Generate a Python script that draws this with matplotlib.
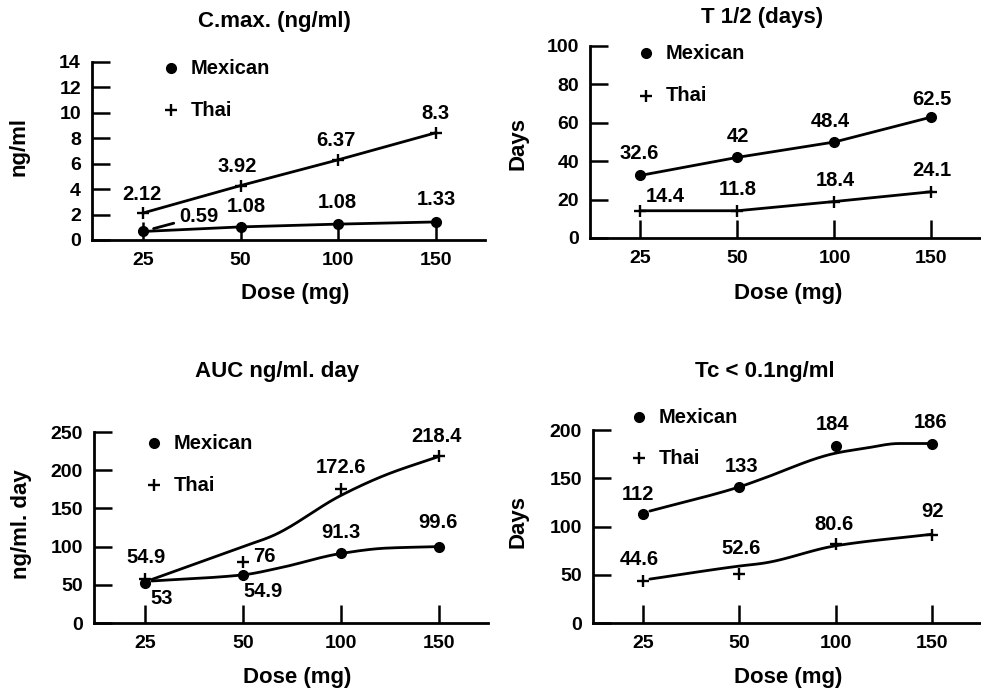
import matplotlib
matplotlib.use('Agg')
import matplotlib.pyplot as plt
import numpy as np

plt.rcParams['font.family'] = ['Liberation Sans', 'DejaVu Sans']
plt.rcParams['font.weight'] = 'bold'

# ---------------- data ----------------
doses = ['25', '50', '100', '150']

cmax_mex = [0.67, 1.03, 1.25, 1.42]
cmax_thai = [2.12, 4.28, 6.31, 8.44]
cmax_mex_labels = ['0.59', '1.08', '1.08', '1.33']
cmax_thai_labels = ['2.12', '3.92', '6.37', '8.3']

thalf_mex = [32.6, 42, 50, 63]
thalf_thai = [14.2, 14.2, 19, 24.1]
thalf_mex_labels = ['32.6', '42', '48.4', '62.5']
thalf_thai_labels = ['14.4', '11.8', '18.4', '24.1']

auc_mex = [52, 63, 91.3, 100]
auc_thai = [58, 80, 175, 218.4]
auc_mex_labels = ['53', '54.9', '91.3', '99.6']
auc_thai_labels = ['54.9', '76', '172.6', '218.4']
auc_mex_curve_x = [0.07, 1.0, 1.37, 2.0, 2.46, 3.0]
auc_mex_curve_y = [55, 63, 72, 91, 98, 100]
auc_thai_curve_x = [0.07, 1.0, 1.3, 2.0, 2.46, 3.0]
auc_thai_curve_y = [57, 100, 114, 167, 194, 218]

tc_mex = [113, 141, 183, 186]
tc_thai = [44, 51, 81.7, 91.5]
tc_mex_labels = ['112', '133', '184', '186']
tc_thai_labels = ['44.6', '52.6', '80.6', '92']
tc_mex_curve_x = [0.07, 1.0, 1.2, 2.0, 2.3, 2.66, 3.0]
tc_mex_curve_y = [116, 141, 148, 176, 181, 186, 186]
tc_thai_curve_x = [0.07, 1.0, 1.25, 2.0, 3.0]
tc_thai_curve_y = [45.5, 59, 62, 80, 92]

# ---------------- styling ----------------
PX = 0.72  # points per pixel at dpi 100
LW = 2.0
FS_DATA = 14.5
FS_TICK = 14
FS_LAB = 16
fig = plt.figure(figsize=(9.81, 6.88), dpi=100)


def px_rect(l, r, t, b):
    return [l / 981, 1 - b / 688, (r - l) / 981, (b - t) / 688]


def smooth(xs, ys, n=30):
    """Monotone cubic (Fritsch-Carlson) rendering of a hand-drawn curve through its knots."""
    xs = np.asarray(xs, float)
    ys = np.asarray(ys, float)
    h = np.diff(xs)
    d = np.diff(ys) / h
    m = np.zeros_like(ys)
    m[0], m[-1] = d[0], d[-1]
    for i in range(1, len(xs) - 1):
        if d[i - 1] * d[i] <= 0:
            m[i] = 0.0
        else:
            w1 = 2 * h[i] + h[i - 1]
            w2 = h[i] + 2 * h[i - 1]
            m[i] = (w1 + w2) / (w1 / d[i - 1] + w2 / d[i])
    ox, oy = [], []
    for i in range(len(xs) - 1):
        t = np.linspace(0, 1, n, endpoint=False)
        h00 = 2 * t ** 3 - 3 * t ** 2 + 1
        h10 = t ** 3 - 2 * t ** 2 + t
        h01 = -2 * t ** 3 + 3 * t ** 2
        h11 = t ** 3 - t ** 2
        ox.extend(xs[i] + t * h[i])
        oy.extend(h00 * ys[i] + h10 * h[i] * m[i] + h01 * ys[i + 1] + h11 * h[i] * m[i + 1])
    ox.append(xs[-1])
    oy.append(ys[-1])
    return ox, oy


def panel(rect, ylim, ystep, mex, thai, mex_lab, thai_lab, mex_off, thai_off,
          legend_pos, mex_curve=None, thai_curve=None):
    ax = fig.add_axes(rect)
    x = list(range(len(doses)))
    if mex_curve is None:
        ax.plot(x, mex, color='black', lw=LW, solid_capstyle='round')
    else:
        ax.plot(*smooth(*mex_curve), color='black', lw=LW, solid_capstyle='round')
    if thai_curve is None:
        ax.plot(x, thai, color='black', lw=LW, solid_capstyle='round')
    else:
        ax.plot(*smooth(*thai_curve), color='black', lw=LW, solid_capstyle='round')
    ax.plot(x, mex, 'o', color='black', ms=7, zorder=5)
    ax.plot(x, thai, '+', color='black', ms=9, mew=1.7, zorder=5)
    for xi, yi, s, (dx, dy) in zip(x, mex, mex_lab, mex_off):
        ax.annotate(s, (xi, yi), xytext=(dx * PX, dy * PX), textcoords='offset points',
                    ha='center', va='center', fontsize=FS_DATA)
    for xi, yi, s, (dx, dy) in zip(x, thai, thai_lab, thai_off):
        ax.annotate(s, (xi, yi), xytext=(dx * PX, dy * PX), textcoords='offset points',
                    ha='center', va='center', fontsize=FS_DATA)
    ax.set_xlim(-0.52, 3.5)
    ax.set_ylim(*ylim)
    ax.set_xticks(x)
    ax.set_xticklabels(doses)
    ax.set_yticks(list(range(ylim[0], ylim[1] + 1, ystep)))
    for s in ['top', 'right']:
        ax.spines[s].set_visible(False)
    for s in ['left', 'bottom']:
        ax.spines[s].set_linewidth(2.0)
    ax.tick_params(axis='x', direction='in', length=13, width=1.8, pad=9, labelsize=FS_TICK)
    ax.tick_params(axis='y', direction='in', length=13, width=1.8, pad=8, labelsize=FS_TICK)
    lx, ly1, ly2, tx = legend_pos
    ax.plot([lx], [ly1], 'o', color='black', ms=7, transform=ax.transAxes, clip_on=False)
    ax.plot([lx], [ly2], '+', color='black', ms=9, mew=1.7, transform=ax.transAxes, clip_on=False)
    ax.text(tx, ly1, 'Mexican', transform=ax.transAxes, va='center', ha='left', fontsize=FS_DATA)
    ax.text(tx, ly2, 'Thai', transform=ax.transAxes, va='center', ha='left', fontsize=FS_DATA)
    return ax


# Panel 1: C.max
ax1 = panel(px_rect(92, 485, 62, 240), (0, 14), 2, cmax_mex, cmax_thai,
            ['', '1.08', '1.08', '1.33'], cmax_thai_labels,
            [(0, 0), (6, 20), (-1, 22), (0, 22)],
            [(-1, 19), (-3, 19), (-2, 19), (-1, 19)],
            (0.20, 0.965, 0.73, 0.252))
ax1.annotate(cmax_mex_labels[0], (0, cmax_mex[0]), xytext=(56 * PX, 15 * PX),
             textcoords='offset points', ha='center', va='center', fontsize=FS_DATA,
             arrowprops=dict(arrowstyle='-', lw=LW, shrinkA=2, shrinkB=8, color='black'))

# Panel 2: T 1/2
ax2 = panel(px_rect(590, 980, 46, 238), (0, 100), 20, thalf_mex, thalf_thai,
            thalf_mex_labels, thalf_thai_labels,
            [(-1, 22), (0, 21), (-4, 20), (0, 18)],
            [(25, 14), (0, 21), (1, 21), (0, 21)],
            (0.143, 0.962, 0.741, 0.194))

# Panel 3: AUC
ax3 = panel(px_rect(94, 488, 432, 623), (0, 250), 50, auc_mex, auc_thai,
            auc_mex_labels, auc_thai_labels,
            [(17, -15), (20, -17), (0, 21), (-1, 24)],
            [(1, 21), (21, 5), (0, 22), (-3, 20)],
            (0.153, 0.941, 0.722, 0.203),
            mex_curve=(auc_mex_curve_x, auc_mex_curve_y),
            thai_curve=(auc_thai_curve_x, auc_thai_curve_y))

# Panel 4: Tc
ax4 = panel(px_rect(593, 980, 430, 623), (0, 200), 50, tc_mex, tc_thai,
            tc_mex_labels, tc_thai_labels,
            [(-5, 19), (2, 20), (-3, 22), (-1, 21)],
            [(-4, 21), (2, 25), (-2, 20), (1, 23)],
            (0.119, 1.066, 0.853, 0.17),
            mex_curve=(tc_mex_curve_x, tc_mex_curve_y),
            thai_curve=(tc_thai_curve_x, tc_thai_curve_y))


# titles, axis labels
def ftext(xp, yp, s, **kw):
    fig.text(xp / 981, 1 - yp / 688, s, ha='center', va='center', **kw)


ftext(274, 22, 'C.max. (ng/ml)', fontsize=FS_LAB)
ftext(762, 18, 'T 1/2 (days)', fontsize=FS_LAB)
ftext(277, 372, 'AUC ng/ml. day', fontsize=FS_LAB)
ftext(765, 372, 'Tc < 0.1ng/ml', fontsize=FS_LAB)

ftext(19, 146, 'ng/ml', fontsize=FS_LAB, rotation=90)
ftext(518, 144, 'Days', fontsize=FS_LAB, rotation=90)
ftext(22, 524, 'ng/ml. day', fontsize=FS_LAB, rotation=90)
ftext(518, 522, 'Days', fontsize=FS_LAB, rotation=90)

ftext(295, 293, 'Dose (mg)', fontsize=FS_LAB)
ftext(788, 293, 'Dose (mg)', fontsize=FS_LAB)
ftext(297, 677, 'Dose (mg)', fontsize=FS_LAB)
ftext(788, 677, 'Dose (mg)', fontsize=FS_LAB)

fig.savefig('out.png', dpi=100)
